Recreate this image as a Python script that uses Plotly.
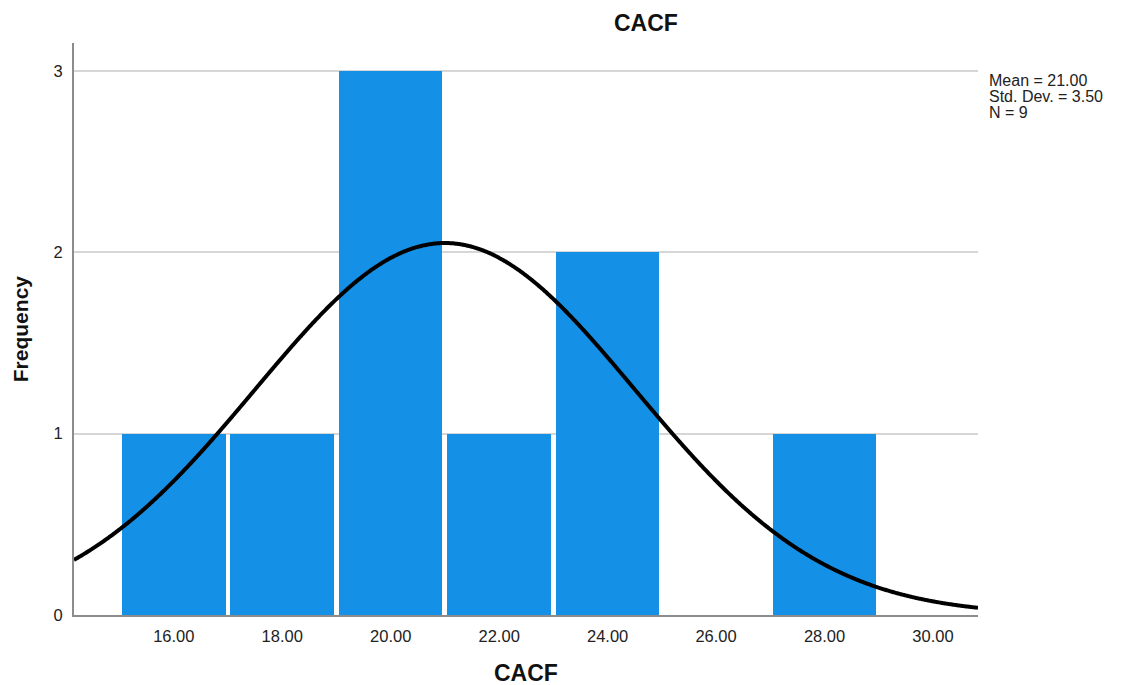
import numpy as np
import plotly.graph_objects as go

# Histogram bins (lower edge, upper edge) and observed frequencies for CACF
bin_lower = [15, 17, 19, 21, 23, 25, 27]
bin_upper = [17, 19, 21, 23, 25, 27, 29]
frequency = [1, 1, 3, 1, 2, 0, 1]

# Summary statistics shown beside the plot
mean_val = 21.00
std_val = 3.50
n_val = 9

x_ticks = [16, 18, 20, 22, 24, 26, 28, 30]
y_ticks = [0, 1, 2, 3]

x_range = [14.16, 30.83]
y_range = [0, 3.155]

FONT = "Liberation Sans, Arial, sans-serif"
BAR_COLOR = "#1490e6"

centers = [(a + b) / 2 for a, b in zip(bin_lower, bin_upper)]
bin_width = bin_upper[0] - bin_lower[0]

fig = go.Figure()

fig.add_trace(go.Bar(
    x=centers,
    y=frequency,
    width=[bin_width * 0.955] * len(centers),
    marker=dict(color=BAR_COLOR, line=dict(width=0)),
    hoverinfo="skip",
))

# Normal curve scaled to the histogram counts
xs = np.linspace(x_range[0], x_range[1], 600)
scale = n_val * bin_width / (std_val * np.sqrt(2 * np.pi))
ys = scale * np.exp(-((xs - mean_val) ** 2) / (2 * std_val ** 2))
fig.add_trace(go.Scatter(
    x=xs, y=ys, mode="lines",
    line=dict(color="black", width=4, shape="spline", simplify=False),
    hoverinfo="skip",
))

fig.update_layout(
    width=1121, height=685,
    margin=dict(l=74, r=143, t=43, b=70),
    plot_bgcolor="white",
    paper_bgcolor="white",
    showlegend=False,
    font=dict(family=FONT, color="#222222"),
    bargap=0,
)

fig.update_xaxes(
    range=x_range,
    tickvals=x_ticks,
    ticktext=[f"{v:.2f}" for v in x_ticks],
    tickfont=dict(size=16.5, family=FONT, color="#222222"),
    showgrid=False,
    zeroline=False,
    showline=True, linecolor="#8c8c8c", linewidth=2,
    ticks="outside", ticklen=5, tickcolor="rgba(0,0,0,0)",
)
fig.update_yaxes(
    range=y_range,
    tickvals=y_ticks,
    tickfont=dict(size=16.5, family=FONT, color="#222222"),
    showgrid=True, gridcolor="#d6d6d6", gridwidth=2,
    zeroline=False,
    showline=True, linecolor="#8c8c8c", linewidth=2,
    ticks="outside", ticklen=6, tickcolor="rgba(0,0,0,0)",
)

annotations = [
    dict(text="<b>CACF</b>", x=0.633, y=1.035, xref="paper", yref="paper",
         showarrow=False, font=dict(size=23, family=FONT, color="#111111"),
         xanchor="center", yanchor="middle"),
    dict(text="<b>CACF</b>", x=0.5, y=-0.101, xref="paper", yref="paper",
         showarrow=False, font=dict(size=23, family=FONT, color="#111111"),
         xanchor="center", yanchor="middle"),
    dict(text="<b>Frequency</b>", x=-0.0595, y=0.5, xref="paper", yref="paper",
         showarrow=False, textangle=-90,
         font=dict(size=21, family=FONT, color="#111111"),
         xanchor="center", yanchor="middle"),
]

stats_lines = [f"Mean = {mean_val:.2f}", f"Std. Dev. = {std_val:.2f}", f"N = {n_val}"]
stats_y = [0.9345, 0.9065, 0.879]
for txt, yy in zip(stats_lines, stats_y):
    annotations.append(dict(
        text=txt, x=1.0100, y=yy, xref="paper", yref="paper",
        showarrow=False, font=dict(size=16, family=FONT, color="#222222"),
        xanchor="left", yanchor="middle",
    ))

fig.update_layout(annotations=annotations)

fig.write_html("out.html")
